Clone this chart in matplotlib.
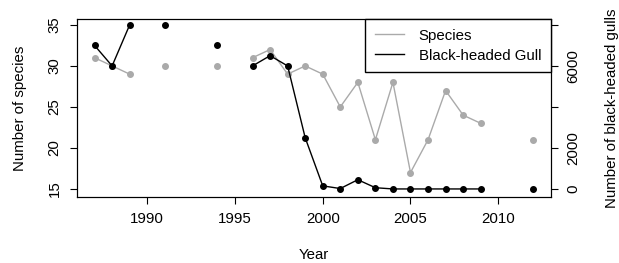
import numpy as np
import matplotlib
matplotlib.use("Agg")
import matplotlib.pyplot as plt
from matplotlib.lines import Line2D

plt.rcParams['font.family'] = ['Liberation Sans', 'DejaVu Sans']

nan = np.nan
years = list(range(1987, 2013))
species = [31, 30, 29, nan, 30, nan, nan, 30, nan, 31, 32, 29, 30,
           29, 25, 28, 21, 28, 17, 21, 27, 24, 23, nan, nan, 21]
gulls = [7000, 6000, 8000, nan, 8000, nan, nan, 7000, nan, 6000, 6500, 6000, 2500,
         150, 20, 450, 60, 0, 0, 0, 0, 0, 0, nan, nan, 0]

gray = '#aaaaaa'
fs = 10.8

fig = plt.figure(figsize=(6.19, 2.63), dpi=100)
ax = fig.add_axes([0.1244, 0.251, 0.7656, 0.677])
ax.plot(years, species, '-o', color=gray, markersize=4, lw=1, label='Species')
ax.set_xlim(1986, 2013)
ax.set_ylim(14.02, 35.73)
ax.set_xticks([1990, 1995, 2000, 2005, 2010])
ax.set_yticks([15, 20, 25, 30, 35])
ax.set_ylabel('Number of species', fontsize=fs, labelpad=15)
ax.set_xlabel('Year', fontsize=fs, labelpad=16)
for lab in ax.get_yticklabels():
    lab.set_rotation(90)
    lab.set_va('center')
ax.tick_params(direction='out', length=5, labelsize=fs, pad=6)

ax2 = ax.twinx()
ax2.plot(years, gulls, '-o', color='black', markersize=4, lw=1, label='Black-headed Gull')
lo, hi = ax.get_ylim()
ax2.set_ylim((lo - 15) * 400, (hi - 15) * 400)
ax2.set_yticks([0, 2000, 4000, 6000, 8000])
ax2.set_yticklabels(['0', '2000', '', '6000', ''])
for lab in ax2.get_yticklabels():
    lab.set_rotation(90)
    lab.set_va('center')
ax2.tick_params(direction='out', length=5, labelsize=fs, pad=6)
ax2.set_ylabel('Number of black-headed gulls', fontsize=fs, labelpad=18)

handles = [Line2D([], [], color=gray, lw=1), Line2D([], [], color='black', lw=1)]
leg = ax2.legend(handles, ['Species', 'Black-headed Gull'], loc='upper right',
                 borderaxespad=0, fancybox=False, edgecolor='black', fontsize=fs,
                 handlelength=1.9, handletextpad=1.0, borderpad=0.65,
                 labelspacing=0.4, framealpha=1)
leg.get_frame().set_linewidth(1)

fig.savefig('out.png', dpi=100)
